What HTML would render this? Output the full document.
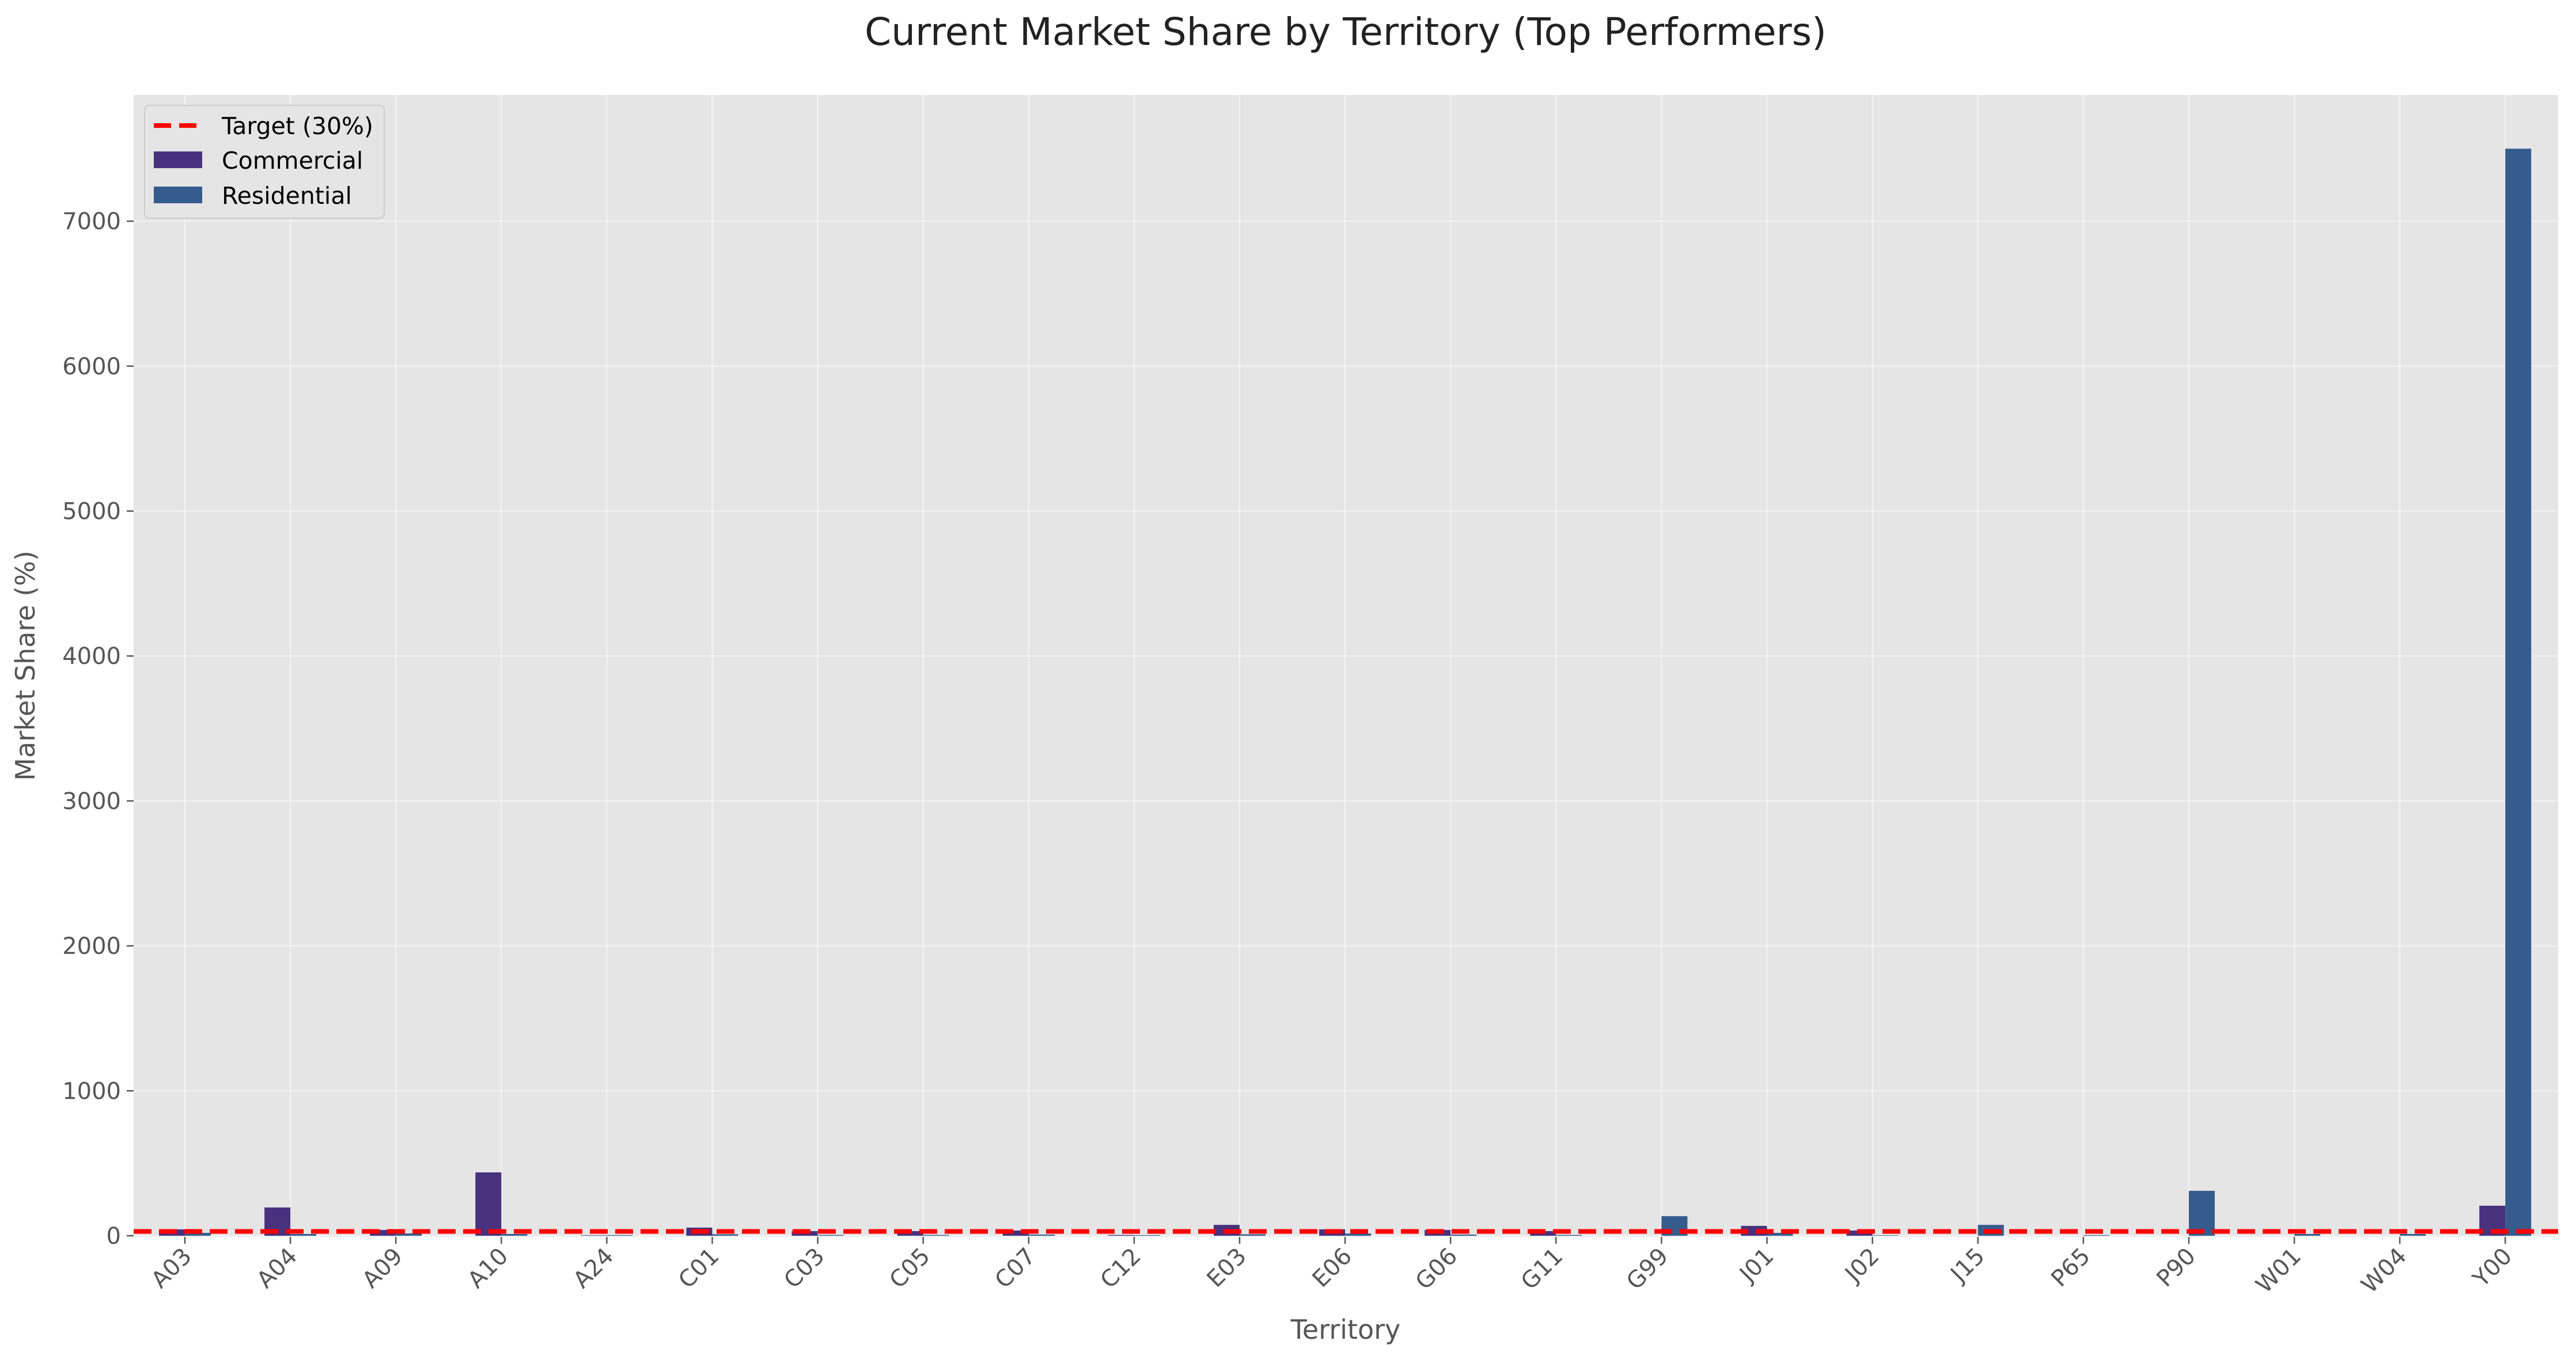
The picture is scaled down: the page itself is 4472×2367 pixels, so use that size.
<!DOCTYPE html>
<html><head><meta charset="utf-8"><style>body{margin:0;background:#fff}svg{display:block}</style></head>
<body>
<svg id="chart" width="4472" height="2367" xmlns="http://www.w3.org/2000/svg" font-family="'DejaVu Sans','Liberation Sans',sans-serif">
<rect x="0" y="0" width="4472" height="2367" fill="#fff"/>
<text x="2336" y="78" font-size="66" text-anchor="middle" fill="#222">Current Market Share by Territory (Top Performers)</text>
<rect x="232" y="165" width="4209" height="1983" fill="#e5e5e5"/>
<g id="grid"></g>
<g id="bars"></g>
<g id="axes"></g>
<text x="2336" y="2325" font-size="46" text-anchor="middle" fill="#555">Territory</text>
<text x="60" y="1156" font-size="46" text-anchor="middle" fill="#555" transform="rotate(-90 60 1156)">Market Share (%)</text>
<g>
<rect x="251" y="183" width="416" height="196" rx="8" fill="#e5e5e5" stroke="#ccc" stroke-width="2"/>
<line x1="267" y1="218" x2="343" y2="218" stroke="#ff0000" stroke-width="8" stroke-dasharray="30 14"/>
<text x="385" y="233" font-size="41" fill="#000">Target (30%)</text>
<rect x="267" y="263" width="84" height="29" fill="#48317d"/>
<text x="385" y="293" font-size="41" fill="#000">Commercial</text>
<rect x="267" y="324" width="84" height="29" fill="#365c8d"/>
<text x="385" y="354" font-size="41" fill="#000">Residential</text>
</g>
</svg>
<script>
const categories = ["A03","A04","A09","A10","A24","C01","C03","C05","C07","C12","E03","E06","G06","G11","G99","J01","J02","J15","P65","P90","W01","W04","Y00"];
const commercial = [44,195,40,437,3,56,32,32,36,5,75,44,40,32,0,68,36,0,0,0,0,0,207];
const residential = [20,12,16,12,4,10,5,5,8,4,10,15,8,5,135,20,3,75,4,310,12,12,7500];
const yTicks = [0,1000,2000,3000,4000,5000,6000,7000];
const target = 30;

const NS = "http://www.w3.org/2000/svg";
const plotLeft = 232, plotRight = 4441, plotTop = 165, plotBottom = 2148;
const y0px = 2146, pxPerUnit = 0.2517;
function xScale(i){ return 321 + i * 183.1; }
function yScale(v){ return y0px - v * pxPerUnit; }
const barW = 45;

function mk(tag, attrs, parent){ const e = document.createElementNS(NS, tag); for (const k in attrs) e.setAttribute(k, attrs[k]); parent.appendChild(e); return e; }
const gridG = document.getElementById('grid'), barsG = document.getElementById('bars'), axesG = document.getElementById('axes');

yTicks.forEach(t => {
  const y = yScale(t);
  const gl = mk('line', {x1:plotLeft, x2:plotRight, y1:y, y2:y, stroke:'#fff', 'stroke-width':2, opacity:0.6}, gridG);
  
  
  const tk = mk('line', {x1:plotLeft-12, x2:plotLeft, y1:y, y2:y, stroke:'#555', 'stroke-width':2.5}, axesG);
  
  
  const lb = mk('text', {x:plotLeft-22, y:y+14, 'font-size':40, 'text-anchor':'end', fill:'#555'}, axesG);
  lb.textContent = t;
  
  
});

categories.forEach((c, i) => {
  const x = xScale(i);
  const gl = mk('line', {x1:x, x2:x, y1:plotTop, y2:plotBottom, stroke:'#fff', 'stroke-width':2, opacity:0.6}, gridG);
  
  
  const cb = mk('rect', {x:x-barW, y:yScale(commercial[i]), width:barW, height:Math.max(0, y0px - yScale(commercial[i])), fill:'#48317d'}, barsG);
  
  
  const rb = mk('rect', {x:x, y:yScale(residential[i]), width:barW, height:Math.max(0, y0px - yScale(residential[i])), fill:'#365c8d'}, barsG);
  
  
  const tk = mk('line', {x1:x, x2:x, y1:plotBottom, y2:plotBottom+12, stroke:'#555', 'stroke-width':2.5}, axesG);
  
  
  const lx = x + 4, ly = plotBottom + 26;
  const lb = mk('text', {x:lx, y:ly+14, 'font-size':40, 'text-anchor':'end', fill:'#555', transform:'rotate(-45 ' + lx + ' ' + ly + ')'}, axesG);
  lb.textContent = c;
  
  
});

const tl = mk('line', {x1:plotLeft, x2:plotRight, y1:yScale(target), y2:yScale(target), stroke:'#ff0000', 'stroke-width':8, 'stroke-dasharray':'31 13'}, barsG);


</script>
</body></html>
